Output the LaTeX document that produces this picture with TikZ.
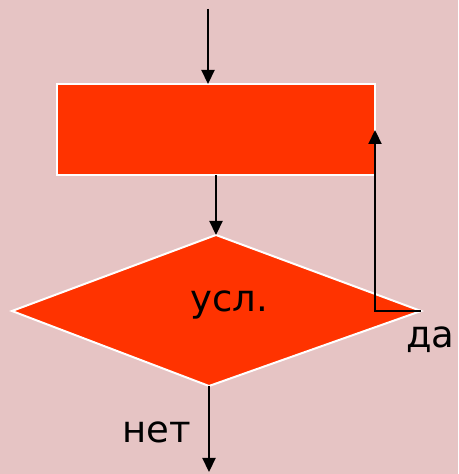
\documentclass[tikz,border=0pt]{standalone}
\usepackage{fontspec}
\setmainfont{DejaVu Sans}
\usetikzlibrary{arrows.meta}
\definecolor{bg}{HTML}{E6C4C4}
\definecolor{blk}{HTML}{FF3300}
\begin{document}
\begin{tikzpicture}[x=1pt,y=1pt,
  shp/.style={fill=blk,draw=white,line width=2pt},
  arr/.style={draw=black,line width=2.2pt,-{Triangle[length=14pt,width=13pt]}},
  lbl/.style={font=\fontsize{37}{40}\selectfont,inner sep=0pt}]
\fill[bg] (0,0) rectangle (458,474);
\useasboundingbox (0,0) rectangle (458,474);
% rectangle
\draw[shp] (57,474-84) rectangle (375,474-175);
\coordinate (rtop) at (208,474-84);
\coordinate (rbot) at (216,474-175);
\coordinate (rright) at (375,474-130);
% diamond
\coordinate (dt) at (216,474-235);
\coordinate (dr) at (421,474-311);
\coordinate (db) at (209,474-386);
\coordinate (dl) at (12,474-311);
\draw[shp] (dt) -- (dr) -- (db) -- (dl) -- cycle;
\node[lbl] (cond) at (229,474-305) {усл.};
\coordinate (start) at (208,474-9);
\coordinate (corner) at (375,474-311);
\coordinate (end) at (209,2);
\draw[arr] (start) -- (rtop);
\draw[arr] (rbot) -- (dt);
\draw[arr] (dr) -- (corner) -- (rright);
\draw[arr] (db) -- (end);
\node[lbl,anchor=west] (yes) at (406,474-340) {да};
\node[lbl,anchor=east] (no) at (191,474-432) {нет};
\end{tikzpicture}
\end{document}
